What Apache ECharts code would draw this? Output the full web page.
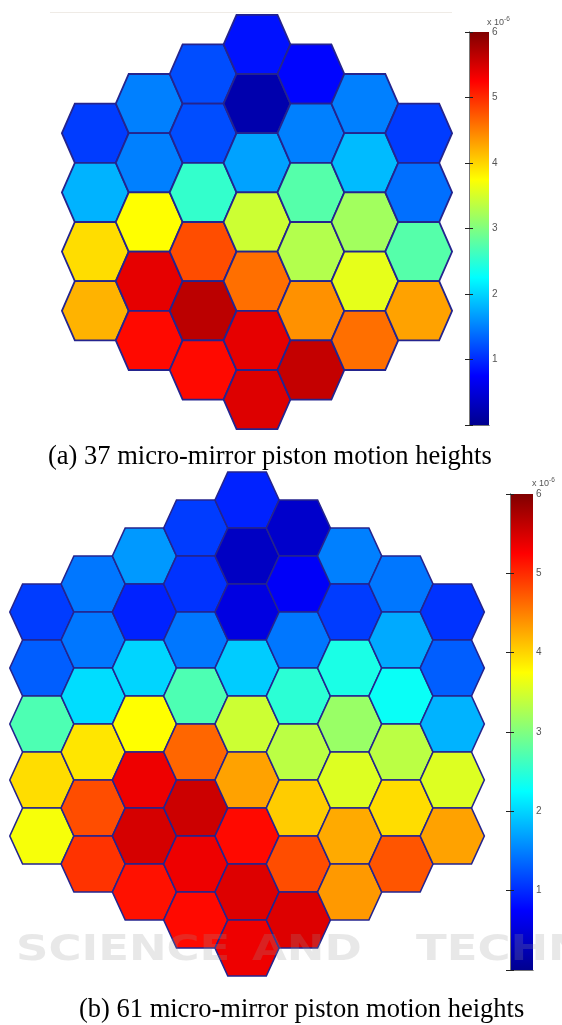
<!DOCTYPE html>
<html>
<head>
<meta charset="utf-8">
<script src="https://cdn.jsdelivr.net/npm/echarts@6/dist/echarts.min.js"></script>
<style>
html,body{margin:0;padding:0;background:#fff;}
#chart{width:562px;height:1025px;}
</style>
</head>
<body>
<div id="chart"></div>
<script>
// Piston heights (x 10^-6), one array per hexagon column, listed top to bottom.
// (a) 37 micro-mirrors: columns -3 .. 3
const pistonA = [
  [1.1, 1.8, 3.95, 4.2],
  [1.5, 1.5, 3.75, 5.4, 5.2],
  [1.2, 1.2, 2.55, 4.8, 5.65, 5.2],
  [0.85, 0.2, 1.7, 3.45, 4.6, 5.4, 5.45],
  [0.78, 1.5, 2.75, 3.3, 4.4, 5.6],
  [1.5, 1.85, 3.2, 3.6, 4.6],
  [1.1, 1.4, 2.75, 4.3]
];
// (b) 61 micro-mirrors: columns -4 .. 4
const pistonB = [
  [1.1, 1.3, 2.7, 3.95, 3.7],
  [1.45, 1.45, 2.05, 3.9, 4.8, 4.95],
  [1.65, 0.95, 2.0, 3.75, 5.35, 5.5, 5.15],
  [1.1, 1.05, 1.45, 2.7, 4.65, 5.55, 5.35, 5.2],
  [0.95, 0.35, 0.55, 1.95, 3.45, 4.3, 5.2, 5.45, 5.35],
  [0.4, 0.7, 1.45, 2.5, 3.35, 4.05, 4.8, 5.45],
  [1.5, 1.1, 2.4, 3.15, 3.55, 4.25, 4.35],
  [1.45, 1.75, 2.3, 3.35, 3.95, 4.75],
  [1.05, 1.3, 1.8, 3.55, 4.3]
];
const colorbarTicks = [0, 1, 2, 3, 4, 5, 6];
const captionA = '(a) 37 micro-mirror piston motion heights';
const captionB = '(b) 61 micro-mirror piston motion heights';
const jet = ['#00008f', '#0000ff', '#0080ff', '#00ffff', '#80ff80', '#ffff00', '#ff8000', '#ff0000', '#800000'];

function toCells(cols) {
  const half = (cols.length - 1) / 2;
  const out = [];
  cols.forEach((col, i) => {
    const n = col.length;
    col.forEach((v, k) => out.push([i - half, (n - 1) - 2 * k, v]));
  });
  return out;
}

function hexRender(W, A, stroke, lw) {
  return function (params, api) {
    const cx = api.value(0), cy = api.value(1);
    const pts = [[cx - W, cy], [cx - A, cy + 1], [cx + A, cy + 1], [cx + W, cy], [cx + A, cy - 1], [cx - A, cy - 1]]
      .map(p => api.coord(p));
    return { type: 'polygon', shape: { points: pts }, style: { fill: api.visual('color'), stroke: stroke, lineWidth: lw } };
  };
}

const jetGrad = {
  type: 'linear', x: 0, y: 1, x2: 0, y2: 0,
  colorStops: jet.map((c, i) => ({ offset: i / (jet.length - 1), color: c }))
};

function cbAxes(gi) {
  const ticks = { show: true, inside: true, length: 4, lineStyle: { color: '#222', width: 1 } };
  return {
    y: [
      { gridIndex: gi, type: 'value', min: colorbarTicks[0], max: colorbarTicks[colorbarTicks.length - 1], interval: 1, position: 'right',
        axisLine: { show: true, lineStyle: { color: '#777', width: 1 } }, axisTick: ticks, splitLine: { show: false },
        axisLabel: { show: true, margin: 3, fontSize: 10, color: '#555', fontFamily: 'Liberation Sans', formatter: v => (v === 0 ? '' : String(v)) } },
      { gridIndex: gi, type: 'value', min: colorbarTicks[0], max: colorbarTicks[colorbarTicks.length - 1], interval: 1, position: 'left',
        axisLine: { show: true, lineStyle: { color: '#777', width: 1 } }, axisTick: ticks, splitLine: { show: false }, axisLabel: { show: false } }
    ],
    x: [
      { gridIndex: gi, type: 'value', min: 0, max: 1, position: 'bottom', axisLine: { show: true, lineStyle: { color: '#777' } }, axisTick: { show: false }, axisLabel: { show: false }, splitLine: { show: false } },
      { gridIndex: gi, type: 'value', min: 0, max: 1, position: 'top', axisLine: { show: true, lineStyle: { color: '#777' } }, axisTick: { show: false }, axisLabel: { show: false }, splitLine: { show: false } }
    ]
  };
}

const cbA = cbAxes(2), cbB = cbAxes(3);
const wm = 'rgba(150,150,150,0.22)';
const expRich = { a: { fontSize: 9, fontFamily: 'Liberation Sans', fill: '#555' }, b: { fontSize: 6.5, fontFamily: 'Liberation Sans', fill: '#555', padding: [0, 0, 6, 0] } };

const option = {
  animation: false,
  backgroundColor: '#fff',
  grid: [
    { left: 52.2, top: 8.9, width: 409.6, height: 426.2 },
    { left: 0.8, top: 466.4, width: 492.5, height: 515.2 },
    { left: 469, top: 32, width: 20, height: 393, show: true, backgroundColor: jetGrad, borderWidth: 0 },
    { left: 510, top: 494, width: 23, height: 476, show: true, backgroundColor: jetGrad, borderWidth: 0 }
  ],
  xAxis: [
    { gridIndex: 0, type: 'value', min: -3.8, max: 3.8, show: false },
    { gridIndex: 1, type: 'value', min: -4.8, max: 4.8, show: false }
  ].concat(cbA.x, cbB.x),
  yAxis: [
    { gridIndex: 0, type: 'value', min: -7.2, max: 7.2, show: false },
    { gridIndex: 1, type: 'value', min: -9.2, max: 9.2, show: false }
  ].concat(cbA.y, cbB.y),
  visualMap: [
    { type: 'continuous', show: false, min: 0, max: 6, dimension: 2, seriesIndex: 0, inRange: { color: jet } },
    { type: 'continuous', show: false, min: 0, max: 6, dimension: 2, seriesIndex: 1, inRange: { color: jet } }
  ],
  series: [
    { type: 'custom', xAxisIndex: 0, yAxisIndex: 0, data: toCells(pistonA), renderItem: hexRender(0.62, 0.38, '#24248e', 1.8), silent: true },
    { type: 'custom', xAxisIndex: 1, yAxisIndex: 1, data: toCells(pistonB), renderItem: hexRender(0.625, 0.375, '#24248e', 1.6), silent: true }
  ],
  graphic: [
    { type: 'line', shape: { x1: 50, y1: 12.5, x2: 452, y2: 12.5 }, style: { stroke: '#efebe6', lineWidth: 1 } },
    { type: 'text', x: 48, y: 457, style: { text: captionA, font: '26.5px "Liberation Serif"', fill: '#000', verticalAlign: 'middle' } },
    { type: 'text', x: 79, y: 1010, style: { text: captionB, font: '26.5px "Liberation Serif"', fill: '#000', verticalAlign: 'middle' } },
    { type: 'text', x: 487, y: 29, style: { text: '{a|x 10}{b|-6}', verticalAlign: 'bottom', rich: expRich } },
    { type: 'text', x: 532, y: 490, style: { text: '{a|x 10}{b|-6}', verticalAlign: 'bottom', rich: expRich } },
    { type: 'text', x: 16, y: 933, scaleX: 1.25, z: 100, style: { text: 'SCIENCE', font: 'bold 36px "DejaVu Sans"', fill: wm, verticalAlign: 'top' } },
    { type: 'text', x: 252, y: 933, scaleX: 1.25, z: 100, style: { text: 'AND', font: 'bold 36px "DejaVu Sans"', fill: wm, verticalAlign: 'top' } },
    { type: 'text', x: 416, y: 933, scaleX: 1.25, z: 100, style: { text: 'TECHN', font: 'bold 36px "DejaVu Sans"', fill: wm, verticalAlign: 'top' } }
  ]
};

const chart = echarts.init(document.getElementById('chart'), null, { renderer: 'canvas' });
chart.setOption(option);
</script>
</body>
</html>
